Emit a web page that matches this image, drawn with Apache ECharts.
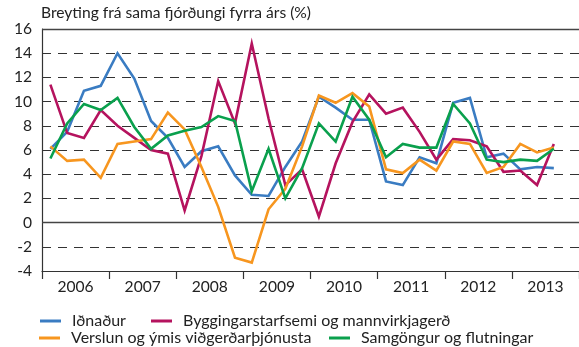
<!DOCTYPE html>
<html>
<head>
<meta charset="utf-8">
<script src="https://cdn.jsdelivr.net/npm/echarts@6/dist/echarts.min.js"></script>
<style>
  html, body { margin: 0; padding: 0; background: #fff; }
  #chart { width: 579px; height: 347px; }
</style>
</head>
<body>
<div id="chart"></div>
<script>
// Year-on-year change by sector, quarterly 2006Q1 - 2013Q3
const years = ['2006', '2007', '2008', '2009', '2010', '2011', '2012', '2013'];
const quarterNames = ['F1', 'F2', 'F3', 'F4'];
const yTicks = { min: -4, max: 16, step: 2 };

const idnadur = [6.1, 7.5, 10.9, 11.3, 14.0, 11.9, 8.4, 7.0,
  4.6, 5.9, 6.3, 3.9, 2.3, 2.2, 4.6, 6.7,
  10.4, 9.5, 8.5, 8.5, 3.4, 3.1, 5.4, 4.9,
  9.9, 10.3, 5.4, 5.7, 4.4, 4.6, 4.5];

const byggingar = [11.4, 7.4, 7.0, 9.3, 8.0, 7.0, 6.0, 5.7,
  1.0, 5.5, 11.7, 8.2, 14.8, 8.6, 3.1, 4.4,
  0.5, 4.9, 8.3, 10.6, 9.0, 9.5, 7.5, 5.2,
  6.9, 6.8, 6.3, 4.2, 4.3, 3.1, 6.5];

const verslun = [6.3, 5.1, 5.2, 3.7, 6.5, 6.7, 6.9, 9.1,
  7.7, 4.6, 1.3, -2.9, -3.3, 1.1, 2.8, 6.3,
  10.5, 9.9, 10.7, 9.6, 4.4, 4.1, 5.2, 4.3,
  6.7, 6.5, 4.1, 4.6, 6.5, 5.8, 6.2];

const samgongur = [5.3, 8.2, 9.8, 9.3, 10.3, 7.9, 6.1, 7.2,
  7.6, 7.9, 8.8, 8.4, 2.6, 6.1, 2.0, 4.5,
  8.2, 6.7, 10.4, 8.5, 5.4, 6.5, 6.2, 6.2,
  9.8, 8.2, 5.2, 5.0, 5.2, 5.1, 6.1];

const seriesNames = [
  'Iðnaður',
  'Byggingarstarfsemi og mannvirkjagerð',
  'Verslun og ýmis viðgerðarþjónusta',
  'Samgöngur og flutningar'
];
const seriesData = [idnadur, byggingar, verslun, samgongur];
const seriesColors = ['#3a7cc2', '#b5135e', '#f7961f', '#0aa04d'];

// quarter categories: one slot per quarter of each year
const quarters = [];
years.forEach(y => quarterNames.forEach(q => quarters.push(y + q)));

const FONT = 'Lato';
const chart = echarts.init(document.getElementById('chart'), null, { renderer: 'canvas' });

const legendLayout = [
  { left: 40, top: 313 },
  { left: 151, top: 313 },
  { left: 39, top: 330 },
  { left: 329, top: 330 }
];

const option = {
  animation: false,
  backgroundColor: '#ffffff',
  title: {
    text: 'Breyting frá sama fjórðungi fyrra árs (%)',
    left: 41,
    top: 5,
    padding: 0,
    textStyle: { fontFamily: FONT, fontSize: 15.6, fontWeight: 'normal', color: '#222' }
  },
  legend: seriesNames.map((n, i) => ({
    data: [n],
    left: legendLayout[i].left,
    top: legendLayout[i].top,
    padding: 0,
    itemWidth: 21,
    itemHeight: 3,
    icon: 'rect',
    selectedMode: false,
    textStyle: { fontFamily: FONT, fontSize: 16, color: '#222', padding: [0, 0, 0, 6] }
  })),
  grid: { left: 42, top: 29, right: -4, bottom: 76, containLabel: false },
  xAxis: [
    {
      type: 'category',
      data: quarters,
      boundaryGap: true,
      show: false
    },
    {
      type: 'category',
      data: years,
      position: 'bottom',
      boundaryGap: true,
      axisLine: { show: true, lineStyle: { color: '#333', width: 1.2 } },
      axisTick: { show: true, inside: false, length: 8, interval: 0, lineStyle: { color: '#333', width: 1.2 } },
      axisLabel: { fontFamily: FONT, fontSize: 15.6, color: '#222', margin: 8, interval: 0 },
      splitLine: { show: false }
    }
  ],
  yAxis: {
    type: 'value',
    min: yTicks.min,
    max: yTicks.max,
    interval: yTicks.step,
    axisLine: { show: true, lineStyle: { color: '#333', width: 1.2 } },
    axisTick: { show: false },
    axisLabel: { fontFamily: FONT, fontSize: 15.6, color: '#222', margin: 10 },
    splitLine: { show: true, lineStyle: { color: '#333', width: 1, type: [9, 7] } }
  },
  series: seriesNames.map((n, i) => {
    const s = {
      name: n,
      type: 'line',
      xAxisIndex: 0,
      data: seriesData[i],
      symbol: 'none',
      color: seriesColors[i],
      lineStyle: { width: 2.6, color: seriesColors[i], join: 'miter' },
      z: 3 + i
    };
    if (i === 0) {
      // solid zero line and top frame
      s.markLine = {
        silent: true,
        symbol: 'none',
        label: { show: false },
        lineStyle: { type: 'solid', color: '#444', width: 1.3 },
        data: [{ yAxis: 0 }, { yAxis: yTicks.max }],
        z: 2
      };
    }
    return s;
  })
};

chart.setOption(option);
</script>
</body>
</html>
